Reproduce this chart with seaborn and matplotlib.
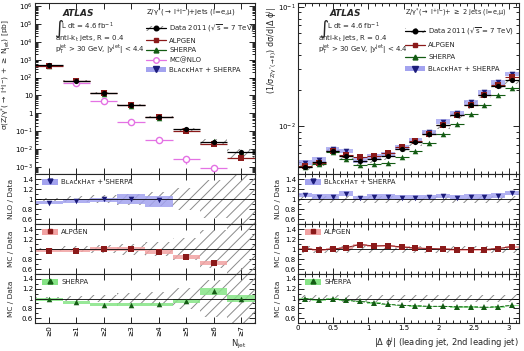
import numpy as np
import matplotlib
matplotlib.use("Agg")
import matplotlib.pyplot as plt
import seaborn as sns
from matplotlib.patches import Patch
from matplotlib.lines import Line2D
from matplotlib.ticker import FixedLocator, MultipleLocator, LogLocator, FuncFormatter, NullFormatter

# ---------------- data: left panel (inclusive jet multiplicity) ----------------
njet_labels = ["≥0", "≥1", "≥2", "≥3", "≥4", "≥5", "≥6", "≥7"]
njet_data = [480, 65, 14, 3.0, 0.62, 0.125, 0.026, 0.0066]
njet_data_err = [0.03, 0.06, 0.08, 0.11, 0.14, 0.22, 0.38, 0.6]
njet_alpgen = [466, 63, 14, 3.03, 0.59, 0.105, 0.019, 0.0032]
njet_sherpa = [470, 60, 12.2, 2.6, 0.55, 0.119, 0.030, 0.0066]
njet_mcnlo = [np.nan, 52, 4.6, 0.34, 0.034, 0.0026, 0.0009, np.nan]
njet_mcnlo_err = [0.05, 0.05, 0.05, 0.08, 0.12, 0.45, 0.2, 0.0]
njet_blackhat = [446, 62.4, 14, 3.03, 0.61]

njet_nlo_ratio = [0.93, 0.96, 1.00, 1.01, 0.99]
njet_nlo_lo = [0.90, 0.93, 0.95, 0.90, 0.85]
njet_nlo_hi = [0.97, 1.00, 1.03, 1.10, 1.07]
njet_alp_ratio = [0.97, 0.97, 1.00, 1.01, 0.95, 0.84, 0.73]
njet_alp_err = [0.03, 0.03, 0.04, 0.04, 0.04, 0.04, 0.04]
njet_she_ratio = [0.98, 0.92, 0.87, 0.87, 0.88, 0.95, 1.15, 1.00]
njet_she_err = [0.03, 0.03, 0.03, 0.03, 0.03, 0.04, 0.07, 0.07]

# ---------------- data: right panel (delta phi of two leading jets) ----------------
dphi_centers = [0.098, 0.295, 0.491, 0.687, 0.884, 1.080, 1.276, 1.473,
                1.669, 1.865, 2.062, 2.258, 2.454, 2.651, 2.847, 3.043]
dphi_data = [0.00462, 0.00503, 0.00618, 0.00561, 0.00509, 0.00533, 0.00561, 0.00651,
             0.00740, 0.00863, 0.01033, 0.01253, 0.01520, 0.01845, 0.02195, 0.0246]
dphi_blackhat = [0.00499, 0.00528, 0.00649, 0.00623, 0.00519, 0.0056, 0.00589, 0.0067,
                 0.00762, 0.00898, 0.01095, 0.01291, 0.01596, 0.01937, 0.02349, 0.02755]
dphi_alpgen = [0.00467, 0.00493, 0.00618, 0.00578, 0.00555, 0.00565, 0.0060, 0.00677,
               0.00755, 0.00872, 0.01033, 0.0124, 0.01505, 0.01827, 0.02217, 0.02583]
dphi_sherpa = [0.00462, 0.00488, 0.00612, 0.00539, 0.00478, 0.00485, 0.00494, 0.0056,
               0.00629, 0.00725, 0.00868, 0.0104, 0.01262, 0.01513, 0.01822, 0.02116]
dphi_nlo_ratio = [1.08, 1.05, 1.05, 1.11, 1.02, 1.05, 1.05, 1.03,
                  1.03, 1.04, 1.06, 1.03, 1.05, 1.05, 1.07, 1.12]
dphi_alp_ratio = [1.01, 0.98, 1.00, 1.03, 1.09, 1.06, 1.07, 1.04,
                  1.02, 1.01, 1.00, 0.99, 0.99, 0.99, 1.01, 1.05]
dphi_she_ratio = [1.00, 0.97, 0.99, 0.96, 0.94, 0.91, 0.88, 0.86,
                  0.85, 0.84, 0.84, 0.83, 0.83, 0.82, 0.83, 0.86]
dphi_data_err = 0.07
dphi_nlo_err = 0.045

# colours
C_ALP, C_ALP_BAND = "#8b1a1a", "#f2a3a3"
C_SHE, C_SHE_BAND = "#145c14", "#86e486"
C_BH, C_BH_BAND = "#1c1c7a", "#a3a3ef"
C_NLO = "#e472e4"
C_HATCH = "#8a8a8a"

FS_TICK = 5.0
FS_TXT = 5
FS_LAB = 5.3

sns.set_theme(style="ticks")
plt.rcParams["font.family"] = ["DejaVu Sans"]
plt.rcParams["hatch.linewidth"] = 0.7
plt.rcParams["axes.linewidth"] = 0.8
plt.rcParams["mathtext.default"] = "regular"

W, H = 524, 351
fig = plt.figure(figsize=(W / 100, H / 100), dpi=100)


def px_axes(x0, x1, y0, y1):
    return fig.add_axes([x0 / W, 1 - y1 / H, (x1 - x0) / W, (y1 - y0) / H])


def style(ax):
    ax.tick_params(which="both", direction="in", top=True, right=True, labelsize=FS_TICK, pad=1.5,
                   colors="black", width=0.6)
    ax.tick_params(which="major", length=4.5)
    ax.tick_params(which="minor", length=2.2)


def decade_fmt(v, pos):
    k = int(round(np.log10(v)))
    if abs(np.log10(v) - k) > 1e-6:
        return ""
    if k == 0:
        return "1"
    if k == 1:
        return "10"
    return r"$10^{%d}$" % k


ratio_fmt = FuncFormatter(lambda v, p: "%g" % round(v, 2))


def ratio_legend(ax, band, colour, marker, label):
    ax.legend([(Patch(facecolor=band, lw=0), Line2D([], [], color=colour, marker=marker, ms=3.5, lw=0))],
              [label], loc="upper left", bbox_to_anchor=(0.01, 1.0), frameon=False, fontsize=FS_TXT,
              handlelength=2.3, handleheight=1.0, borderaxespad=0.25, handletextpad=0.5)


def hatch_band(ax, x, lo, hi, width):
    ax.bar(x, np.array(hi) - np.array(lo), bottom=lo, width=width, fill=False, hatch="///",
           edgecolor=C_HATCH, lw=0, zorder=1)


rows = [(3, 174), (174, 224), (224, 274), (274, 323)]

# ======================= LEFT =======================
xl = np.arange(len(njet_labels))
axL = [px_axes(35, 255, a, b) for a, b in rows]
d = np.array(njet_data)
de = np.array(njet_data_err)

ax = axL[0]
hatch_band(ax, xl, d * (1 - de), d * (1 + de), 1)
ax.errorbar(xl, njet_alpgen, xerr=0.5, fmt="none", ecolor=C_ALP, lw=0.9, zorder=2)
ax.errorbar(xl, njet_mcnlo, xerr=0.5, yerr=np.array(njet_mcnlo) * np.array(njet_mcnlo_err),
            fmt="none", ecolor=C_NLO, lw=0.9, zorder=2)
ax.errorbar(xl, njet_data, xerr=0.5, fmt="none", ecolor="black", lw=0.9, zorder=4)
sns.scatterplot(x=xl[:5], y=njet_blackhat, ax=ax, marker="v", color=C_BH, s=16, linewidth=0, zorder=3)
sns.scatterplot(x=xl, y=njet_sherpa, ax=ax, marker="^", color=C_SHE, s=16, linewidth=0, zorder=3)
sns.scatterplot(x=xl, y=njet_alpgen, ax=ax, marker="s", color=C_ALP, s=14, linewidth=0, zorder=3)
sns.scatterplot(x=xl, y=njet_mcnlo, ax=ax, marker="o", s=20, facecolor="white",
                edgecolor=C_NLO, linewidth=1.0, zorder=3)
sns.scatterplot(x=xl, y=njet_data, ax=ax, marker="o", color="black", s=14, linewidth=0, zorder=5)
ax.set_yscale("log")
ax.set_ylim(4e-4, 1.5e6)
ax.yaxis.set_major_locator(LogLocator(base=10, numticks=20))
ax.yaxis.set_minor_locator(LogLocator(base=10, subs=np.arange(2, 10), numticks=20))
ax.yaxis.set_major_formatter(FuncFormatter(decade_fmt))
ax.yaxis.set_minor_formatter(NullFormatter())
ax.set_ylabel(r"$\sigma$(Z/$\gamma^{*}$($\rightarrow$ l$^{+}$l$^{-}$) + $\geq$ N$_{jet}$) [pb]", fontsize=5.4)

main_handles = [
    (Patch(facecolor="white", edgecolor=C_HATCH, hatch="///", lw=0),
     Line2D([], [], color="black", marker="o", ms=3.3, lw=0.9)),
    Line2D([], [], color=C_ALP, marker="s", ms=3.3, lw=0.9),
    Line2D([], [], color=C_SHE, marker="^", ms=3.5, lw=0.9),
    Line2D([], [], color=C_NLO, marker="o", ms=4, lw=0.9, mfc="white"),
    (Patch(facecolor=C_BH_BAND, lw=0), Line2D([], [], color=C_BH, marker="v", ms=4, lw=0)),
]
lab_data = r"Data 2011 ($\sqrt{s}$ = 7 TeV)"
lab_bh = "BʟᴀᴄᴋHᴀᴛ + SHERPA"
leg = ax.legend(main_handles, [lab_data, "ALPGEN", "SHERPA", "MC@NLO", lab_bh],
                title=r"Z/$\gamma^{*}$($\rightarrow$ l$^{+}$l$^{-}$)+jets (l=e,$\mu$)",
                loc="upper left", bbox_to_anchor=(0.50, 0.985), frameon=False, fontsize=FS_TXT,
                title_fontsize=FS_TXT, handlelength=2.8, labelspacing=0.5, borderaxespad=0.0,
                handletextpad=0.5, borderpad=0.2)
leg._legend_box.align = "left"

ax.text(0.125, 0.936, "ATLAS", transform=ax.transAxes, fontsize=6.5, fontweight="bold",
        style="italic", va="center")
ax.text(0.085, 0.85, r"$\int$", transform=ax.transAxes, fontsize=9, va="center")
ax.text(0.12, 0.866, r"L dt = 4.6 fb$^{-1}$", transform=ax.transAxes, fontsize=FS_TXT, va="center")
ax.text(0.09, 0.79, r"anti-k$_{t}$ jets, R = 0.4", transform=ax.transAxes, fontsize=FS_TXT, va="center")
ax.text(0.09, 0.727, r"p$_{T}^{jet}$ > 30 GeV, |y$^{jet}$| < 4.4", transform=ax.transAxes,
        fontsize=FS_TXT, va="center")

# ratio panels (left)
ax = axL[1]
hatch_band(ax, xl, 1 - de, 1 + de, 1)
ax.bar(xl[:5], np.array(njet_nlo_hi) - np.array(njet_nlo_lo), bottom=njet_nlo_lo, width=1,
       color=C_BH_BAND, alpha=0.85, lw=0, zorder=2)
sns.scatterplot(x=xl[:5], y=njet_nlo_ratio, ax=ax, marker="v", color=C_BH, s=16, linewidth=0, zorder=3)
ax.set_ylabel("NLO / Data", fontsize=FS_LAB)
ratio_legend(ax, C_BH_BAND, C_BH, "v", lab_bh)

ax = axL[2]
hatch_band(ax, xl, 1 - de, 1 + de, 1)
ax.bar(xl[:7], np.array(njet_alp_err) * 2, bottom=np.array(njet_alp_ratio) - np.array(njet_alp_err),
       width=1, color=C_ALP_BAND, alpha=0.85, lw=0, zorder=2)
sns.scatterplot(x=xl[:7], y=njet_alp_ratio, ax=ax, marker="s", color=C_ALP, s=14, linewidth=0, zorder=3)
ax.set_ylabel("MC / Data", fontsize=FS_LAB)
ratio_legend(ax, C_ALP_BAND, C_ALP, "s", "ALPGEN")

ax = axL[3]
hatch_band(ax, xl, 1 - de, 1 + de, 1)
ax.bar(xl, np.array(njet_she_err) * 2, bottom=np.array(njet_she_ratio) - np.array(njet_she_err),
       width=1, color=C_SHE_BAND, alpha=0.85, lw=0, zorder=2)
sns.scatterplot(x=xl, y=njet_she_ratio, ax=ax, marker="^", color=C_SHE, s=16, linewidth=0, zorder=3)
ax.set_ylabel("MC / Data", fontsize=FS_LAB)
ratio_legend(ax, C_SHE_BAND, C_SHE, "^", "SHERPA")

for i, ax in enumerate(axL):
    style(ax)
    ax.set_xlim(-0.5, 7.5)
    ax.xaxis.set_major_locator(FixedLocator(xl))
    ax.xaxis.set_minor_locator(FixedLocator([]))
    ax.set_xlabel("")
    if i > 0:
        ax.axhline(1, color="black", lw=0.6, zorder=2.5)
        ax.set_ylim(0.5, 1.5)
        ax.yaxis.set_major_locator(FixedLocator([0.6, 0.8, 1.0, 1.2, 1.4]))
        ax.yaxis.set_minor_locator(MultipleLocator(0.1))
        ax.yaxis.set_major_formatter(ratio_fmt)
    if i < 3:
        ax.set_xticklabels([])
    else:
        ax.set_xticklabels(njet_labels, rotation=90, fontsize=FS_TICK + 0.3)
    ax.yaxis.set_label_coords(-0.095, 0.5)
axL[0].yaxis.set_label_coords(-0.1, 0.58)
fig.text(247 / W, 1 - 344 / H, r"N$_{jet}$", fontsize=6, ha="right", va="center")

# ======================= RIGHT =======================
bw = np.pi / 16
xr = np.array(dphi_centers)
axR = [px_axes(298, 519, a, b) for a, b in rows]
dr = np.array(dphi_data)
bh = np.array(dphi_blackhat)

ax = axR[0]
hatch_band(ax, xr, dr * (1 - dphi_data_err), dr * (1 + dphi_data_err), bw)
ax.bar(xr, bh * 2 * dphi_nlo_err, bottom=bh * (1 - dphi_nlo_err), width=bw,
       color=C_BH_BAND, alpha=0.8, lw=0, zorder=1.5)
ax.errorbar(xr, dphi_alpgen, xerr=bw / 2, fmt="none", ecolor=C_ALP, lw=0.8, zorder=2)
ax.errorbar(xr, dphi_sherpa, xerr=bw / 2, fmt="none", ecolor=C_SHE, lw=0.8, ls="--", zorder=2)
ax.errorbar(xr, dphi_data, xerr=bw / 2, fmt="none", ecolor="black", lw=0.9, zorder=4)
sns.scatterplot(x=xr, y=dphi_blackhat, ax=ax, marker="v", color=C_BH, s=16, linewidth=0, zorder=3)
sns.scatterplot(x=xr, y=dphi_alpgen, ax=ax, marker="s", color=C_ALP, s=14, linewidth=0, zorder=3)
sns.scatterplot(x=xr, y=dphi_sherpa, ax=ax, marker="^", color=C_SHE, s=16, linewidth=0, zorder=3)
sns.scatterplot(x=xr, y=dphi_data, ax=ax, marker="o", color="black", s=14, linewidth=0, zorder=5)
ax.set_yscale("log")
ax.set_ylim(0.004, 0.108)
ax.yaxis.set_major_locator(LogLocator(base=10, numticks=10))
ax.yaxis.set_minor_locator(LogLocator(base=10, subs=np.arange(2, 10), numticks=10))
ax.yaxis.set_major_formatter(FuncFormatter(decade_fmt))
ax.yaxis.set_minor_formatter(NullFormatter())
ax.set_ylabel(r"(1/$\sigma_{Z/\gamma^{*}(\rightarrow ll)}$) d$\sigma$/d|$\Delta\ \phi^{j}$|", fontsize=5.8)

right_handles = [main_handles[0], main_handles[1],
                 Line2D([], [], color=C_SHE, marker="^", ms=3.5, lw=0.9), main_handles[4]]
leg = ax.legend(right_handles, [lab_data, "ALPGEN", "SHERPA", lab_bh],
                title=r"Z/$\gamma^{*}$($\rightarrow$ l$^{+}$l$^{-}$)+ $\geq$ 2 jets (l=e,$\mu$)",
                loc="upper left", bbox_to_anchor=(0.48, 0.985), frameon=False, fontsize=FS_TXT,
                title_fontsize=4.7, handlelength=2.8, labelspacing=0.85, borderaxespad=0.0,
                handletextpad=0.5, borderpad=0.2)
leg._legend_box.align = "left"

ax.text(0.145, 0.936, "ATLAS", transform=ax.transAxes, fontsize=6.5, fontweight="bold",
        style="italic", va="center")
ax.text(0.095, 0.85, r"$\int$", transform=ax.transAxes, fontsize=9, va="center")
ax.text(0.13, 0.866, r"L dt = 4.6 fb$^{-1}$", transform=ax.transAxes, fontsize=FS_TXT, va="center")
ax.text(0.09, 0.79, r"anti-k$_{t}$ jets, R = 0.4", transform=ax.transAxes, fontsize=FS_TXT, va="center")
ax.text(0.09, 0.727, r"p$_{T}^{jet}$ > 30 GeV, |y$^{jet}$| < 4.4", transform=ax.transAxes,
        fontsize=FS_TXT, va="center")

ax = axR[1]
hatch_band(ax, xr, np.full(16, 1 - dphi_data_err), np.full(16, 1 + dphi_data_err), bw)
ax.bar(xr, 2 * dphi_nlo_err, bottom=np.array(dphi_nlo_ratio) - dphi_nlo_err, width=bw,
       color=C_BH_BAND, alpha=0.85, lw=0, zorder=2)
sns.scatterplot(x=xr, y=dphi_nlo_ratio, ax=ax, marker="v", color=C_BH, s=16, linewidth=0, zorder=3)
ax.set_ylabel("NLO / Data", fontsize=FS_LAB)
ratio_legend(ax, C_BH_BAND, C_BH, "v", lab_bh)

ax = axR[2]
hatch_band(ax, xr, np.full(16, 1 - dphi_data_err), np.full(16, 1 + dphi_data_err), bw)
ax.bar(xr, 0.04, bottom=np.array(dphi_alp_ratio) - 0.02, width=bw,
       color=C_ALP_BAND, alpha=0.85, lw=0, zorder=2)
sns.lineplot(x=xr, y=dphi_alp_ratio, ax=ax, color=C_ALP, lw=0.7, marker="s", ms=3.8, mew=0, zorder=3)
ax.set_ylabel("MC / Data", fontsize=FS_LAB)
ratio_legend(ax, C_ALP_BAND, C_ALP, "s", "ALPGEN")

ax = axR[3]
hatch_band(ax, xr, np.full(16, 1 - dphi_data_err), np.full(16, 1 + dphi_data_err), bw)
ax.bar(xr, 0.03, bottom=np.array(dphi_she_ratio) - 0.015, width=bw,
       color=C_SHE_BAND, alpha=0.85, lw=0, zorder=2)
sns.lineplot(x=xr, y=dphi_she_ratio, ax=ax, color=C_SHE, lw=0.7, ls="--", marker="^", ms=4, mew=0, zorder=3)
ax.set_ylabel("MC / Data", fontsize=FS_LAB)
ratio_legend(ax, C_SHE_BAND, C_SHE, "^", "SHERPA")

for i, ax in enumerate(axR):
    style(ax)
    ax.set_xlim(0, np.pi)
    ax.xaxis.set_major_locator(MultipleLocator(0.5))
    ax.xaxis.set_minor_locator(MultipleLocator(0.1))
    ax.set_xlabel("")
    if i > 0:
        ax.axhline(1, color="black", lw=0.6, zorder=2.5)
        ax.set_ylim(0.5, 1.5)
        ax.yaxis.set_major_locator(FixedLocator([0.6, 0.8, 1.0, 1.2, 1.4]))
        ax.yaxis.set_minor_locator(MultipleLocator(0.1))
        ax.yaxis.set_major_formatter(ratio_fmt)
    if i < 3:
        ax.set_xticklabels([])
    else:
        ax.xaxis.set_major_formatter(FuncFormatter(lambda v, p: "%g" % v))
    ax.yaxis.set_label_coords(-0.078, 0.5)
axR[0].yaxis.set_label_coords(-0.087, 0.72)
fig.text(519 / W, 1 - 343 / H, r"|$\Delta\ \phi^{j}$| (leading jet, 2nd leading jet)", fontsize=6,
         ha="right", va="center")

fig.savefig("out.png", dpi=100)
